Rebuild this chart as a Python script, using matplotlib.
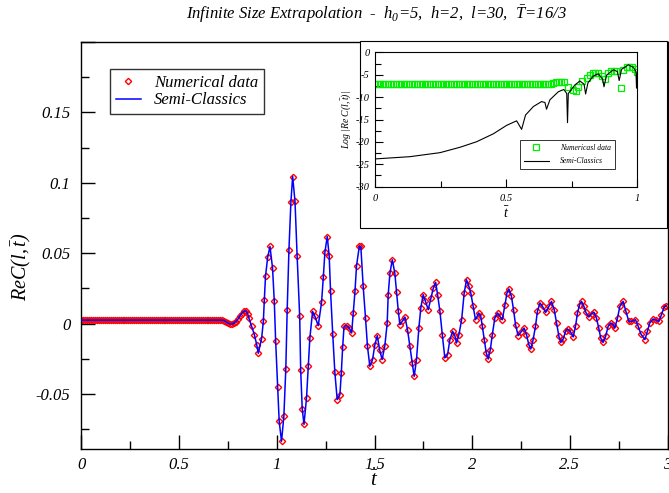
import numpy as np
import matplotlib
matplotlib.use("Agg")
from matplotlib import pyplot as plt
from matplotlib.ticker import MultipleLocator, FuncFormatter
from matplotlib.patches import Rectangle

plt.rcParams['font.family'] = ['Liberation Serif', 'DejaVu Serif']
plt.rcParams['font.style'] = 'italic'
plt.rcParams['mathtext.fontset'] = 'custom'
plt.rcParams['mathtext.rm'] = 'Liberation Serif:italic'
plt.rcParams['mathtext.it'] = 'Liberation Serif:italic'
plt.rcParams['axes.unicode_minus'] = False

# ---- main panel: Re C(l, t) ----
# plateau before the signal arrives
t_flat = np.round(np.arange(0.0, 0.725, 0.01), 2)
re_flat = np.full(t_flat.shape, 0.0025)

t_osc = [0.73, 0.74, 0.75, 0.76, 0.77, 0.78, 0.79, 0.80, 0.81, 0.82, 0.83, 0.84, 0.85,
         0.857, 0.871, 0.885, 0.897, 0.905, 0.922, 0.931, 0.936, 0.942, 0.953, 0.965,
         0.978, 0.987, 0.994, 1.004, 1.012, 1.024, 1.036, 1.046, 1.053, 1.062, 1.072,
         1.081, 1.093, 1.104, 1.117, 1.122, 1.130, 1.139,
         1.152, 1.161, 1.169, 1.183, 1.195, 1.212, 1.229, 1.238, 1.246, 1.258, 1.268,
         1.275, 1.286, 1.297, 1.309, 1.323, 1.330, 1.337, 1.344, 1.357, 1.371, 1.383,
         1.391, 1.400, 1.408, 1.422, 1.430, 1.442, 1.454, 1.464, 1.476, 1.490, 1.502,
         1.514, 1.527, 1.539, 1.553, 1.565,
         1.570, 1.579, 1.591, 1.604, 1.613, 1.622, 1.630, 1.642, 1.656, 1.669, 1.681,
         1.693, 1.703, 1.715, 1.727, 1.737, 1.749, 1.761, 1.775, 1.789, 1.801, 1.813,
         1.823, 1.835, 1.847, 1.860, 1.874, 1.886, 1.900, 1.911, 1.920, 1.932, 1.946,
         1.959, 1.971, 1.983, 1.993, 2.005, 2.017,
         2.034, 2.044, 2.052, 2.062, 2.072, 2.082, 2.093, 2.103, 2.116, 2.130, 2.142,
         2.154, 2.168, 2.178, 2.188, 2.201, 2.212, 2.222, 2.235, 2.249, 2.266, 2.278,
         2.290, 2.300, 2.312, 2.324, 2.334, 2.347, 2.360, 2.376, 2.393, 2.406, 2.420,
         2.432, 2.444, 2.454, 2.466, 2.478, 2.488,
         2.502, 2.517, 2.529, 2.539, 2.550, 2.560, 2.572, 2.582, 2.597, 2.611, 2.624,
         2.636, 2.648, 2.658, 2.670, 2.683, 2.696, 2.710, 2.722, 2.730, 2.744, 2.756,
         2.773, 2.787, 2.802, 2.815, 2.836, 2.850, 2.863, 2.884, 2.897, 2.909, 2.926,
         2.943, 2.955, 2.969, 2.983, 2.993]
re_osc = [0.0022, 0.0012, 0.0004, -0.0002, -0.0003, 0.0003, 0.0015, 0.0030, 0.0052, 0.0072,
          0.0087, 0.0091, 0.0072,
          0.0040, -0.0019, -0.0078, -0.0149, -0.0210, -0.0106, 0.0017, 0.0170, 0.0336, 0.0470,
          0.0548, 0.0395, 0.0158, -0.0125, -0.0447, -0.0693, -0.0835, -0.0658, -0.0319,
          0.0099, 0.0525, 0.0863, 0.1045, 0.0868, 0.0477, 0.0052, -0.0326, -0.0605, -0.0715,
          -0.0527, -0.0302, -0.0102, 0.0087, 0.0052, -0.0014, 0.0152, 0.0331, 0.0506, 0.0619,
          0.0482, 0.0229, -0.0071, -0.0346, -0.0539, -0.0504, -0.0350, -0.0166, -0.0019,
          -0.0014, -0.0031, -0.0066, 0.0076, 0.0229, 0.0411, 0.0548, 0.0548, 0.0265, 0.0040,
          -0.0161, -0.0302, -0.0255, -0.0149, -0.0085, -0.0189, -0.0255, -0.0156, 0.0005,
          0.0205, 0.0359, 0.0454, 0.0359, 0.0222, 0.0087, -0.0007, 0.0016, 0.0047, -0.0043,
          -0.0161, -0.0279, -0.0374, -0.0255, -0.0031, 0.0111, 0.0206, 0.0158, 0.0099, 0.0182,
          0.0253, 0.0293, 0.0206, 0.0087, -0.0078, -0.0243, -0.0220, -0.0113, -0.0054,
          -0.0085, -0.0137, -0.0078, 0.0028, 0.0217, 0.0312, 0.0265, 0.0217, 0.0123, 0.0028,
          0.0076, 0.0052, -0.0019, -0.0113, -0.0208, -0.0251, -0.0184, -0.0078, 0.0040,
          0.0076, 0.0052, 0.0028, 0.0135, 0.0217, 0.0246, 0.0194, 0.0095, -0.0007, -0.0085,
          -0.0061, -0.0031, -0.0078, -0.0149, -0.0180, -0.0113, -0.0019, 0.0087, 0.0147,
          0.0123, 0.0080, 0.0123, 0.0158, 0.0099, 0.0005, -0.0090, -0.0133, -0.0109, -0.0054,
          -0.0038,
          -0.0054, -0.0094, -0.0019, 0.0076, 0.0135, 0.0158, 0.0123, 0.0080, 0.0047, 0.0071,
          0.0080, 0.0040, -0.0031, -0.0102, -0.0133, -0.0090, -0.0019, 0.0005, -0.0007,
          -0.0031, 0.0040, 0.0123, 0.0158, 0.0087, 0.0016, 0.0016, 0.0028, -0.0019, -0.0071,
          -0.0113, -0.0054, 0.0005, 0.0033, 0.0024, 0.0016, 0.0064, 0.0118, 0.0128]

t_main = np.concatenate([t_flat, t_osc])
re_main = np.concatenate([re_flat, re_osc])

# ---- inset: log |Re C| ----
t_log_sc = [0.0, 0.133, 0.248, 0.324, 0.388, 0.451, 0.502, 0.540, 0.559, 0.574, 0.604,
            0.635, 0.648, 0.654, 0.667, 0.699, 0.720, 0.731, 0.734, 0.737, 0.762, 0.781,
            0.797, 0.803, 0.812, 0.832, 0.851, 0.868, 0.873, 0.883, 0.909, 0.924, 0.931,
            0.940, 0.966, 0.985, 0.995, 0.997, 1.0]
log_sc = [-23.8, -23.3, -22.4, -21.2, -19.95, -18.2, -16.3, -15.3, -17.2, -14.0, -12.1,
          -11.0, -11.2, -12.7, -10.6, -8.8, -8.3, -9.2, -15.7, -9.2, -7.3, -6.4,
          -7.1, -9.3, -6.8, -5.3, -4.8, -6.0, -7.7, -5.1, -3.9, -4.3, -6.3,
          -3.8, -2.8, -3.35, -4.3, -8.0, -4.7]

t_log_num_flat = np.round(np.arange(0.0, 0.675, 0.01), 2)
log_num_flat = np.full(t_log_num_flat.shape, -7.07)
t_log_num_tail = [0.68, 0.69, 0.70, 0.71, 0.72, 0.737, 0.756, 0.766, 0.775, 0.79, 0.807,
                  0.82, 0.83, 0.84, 0.85, 0.864, 0.877, 0.889, 0.90, 0.91, 0.92, 0.936,
                  0.947, 0.96, 0.97, 0.98, 0.991, 1.0]
log_num_tail = [-6.8, -6.7, -6.7, -6.7, -6.7, -7.7, -8.4, -8.6, -7.7, -6.5, -5.8,
                -5.1, -4.7, -4.7, -4.7, -5.3, -6.0, -4.7, -4.1, -4.1, -4.1, -7.9,
                -3.9, -3.2, -3.2, -3.2, -3.8, -4.5]
t_log_num = np.concatenate([t_log_num_flat, t_log_num_tail])
log_num = np.concatenate([log_num_flat, log_num_tail])

fig = plt.figure(figsize=(6.69, 4.93), dpi=100)
ax = fig.add_axes([0.1218, 0.0892, 0.876, 0.8256])

ax.plot(t_main, re_main, linestyle='none', marker='D', markersize=3.2,
        markerfacecolor='none', markeredgecolor='red', markeredgewidth=1.0,
        label='Numerical data', zorder=2)
ax.plot(t_main, re_main, color='#0000ff', lw=1.1, label='Semi-Classics', zorder=3)

ax.set_xlim(0, 3)
ax.set_ylim(-0.089, 0.2)
ax.xaxis.set_major_locator(MultipleLocator(0.5))
ax.xaxis.set_minor_locator(MultipleLocator(0.25))
ax.yaxis.set_major_locator(MultipleLocator(0.05))
ax.yaxis.set_minor_locator(MultipleLocator(0.025))
fmt = FuncFormatter(lambda v, p: '%g' % round(v, 4))
ax.xaxis.set_major_formatter(fmt)
# no label on the top edge
ax.yaxis.set_major_formatter(FuncFormatter(lambda v, p: '' if v > 0.19 else '%g' % round(v, 4)))
ax.tick_params(which='both', direction='in', top=False, right=False, labelsize=12)
ax.tick_params(which='major', length=10, width=1.0)
ax.tick_params(which='minor', length=6, width=1.0)
ax.tick_params(axis='y', pad=8)
ax.tick_params(axis='x', pad=6)
for s in ax.spines.values():
    s.set_linewidth(1.0)

ax.set_xlabel(r'$\bar{t}$', fontsize=15, labelpad=-1)
ax.set_ylabel(r'$ReC(l,\bar{t})$', fontsize=14.5)
ax.yaxis.set_label_coords(-0.082, 0.447)

leg = ax.legend(loc='upper left', bbox_to_anchor=(0.0486, 0.934), borderaxespad=0,
                fontsize=12, frameon=True, fancybox=False, handlelength=1.5,
                handletextpad=0.8, labelspacing=0.1, borderpad=0.35)
leg.get_frame().set_edgecolor('black')
leg.get_frame().set_linewidth(1.0)

fig.text(0.562, 0.971, r'Infinite Size Extrapolation  -  $h_{0}$=5,  h=2,  l=30,  $\bar{T}$=16/3',
         ha='center', va='center', fontsize=12)

# white frame holding the inset
box = Rectangle((360 / 669, 1 - 228 / 493), (667 - 360) / 669, (228 - 41) / 493,
                transform=fig.transFigure, facecolor='white', edgecolor='black',
                lw=0.8, zorder=1)
fig.add_artist(box)

ins = fig.add_axes([0.5605, 0.6213, 0.3921, 0.2726], zorder=2)
ins.plot(t_log_num, log_num, linestyle='none', marker='s', markersize=4.2,
         markerfacecolor='none', markeredgecolor='#00ee00', markeredgewidth=0.9,
         label='Numericasl data')
ins.plot(t_log_sc, log_sc, color='black', lw=0.8, label='Semi-Classics')
ins.set_xlim(0, 1)
ins.set_ylim(-30, 0)
ins.xaxis.set_major_locator(MultipleLocator(0.5))
ins.xaxis.set_minor_locator(MultipleLocator(0.25))
ins.yaxis.set_major_locator(MultipleLocator(5))
ins.yaxis.set_minor_locator(MultipleLocator(2.5))
ins.xaxis.set_major_formatter(fmt)
ins.yaxis.set_major_formatter(fmt)
ins.tick_params(which='both', direction='in', top=False, right=False, labelsize=7.5)
ins.tick_params(which='major', length=6, width=0.8)
ins.tick_params(which='minor', length=4, width=0.8)
ins.tick_params(axis='y', pad=4)
ins.tick_params(axis='x', pad=5)
for s in ins.spines.values():
    s.set_linewidth(0.8)
ins.set_xlabel(r'$\bar{t}$', fontsize=10, labelpad=2)
ins.set_ylabel(r'$Log\ |Re\ C(l,\bar{t})|$', fontsize=7, labelpad=1)

ileg = ins.legend(loc='upper left', bbox_to_anchor=(0.553, 0.347), borderaxespad=0,
                  fontsize=5.5, frameon=True, fancybox=False, handlelength=3.3,
                  handletextpad=1.4, labelspacing=0.7, borderpad=0.5)
ileg.get_frame().set_edgecolor('black')
ileg.get_frame().set_linewidth(0.7)

fig.savefig('out.png', dpi=100)
